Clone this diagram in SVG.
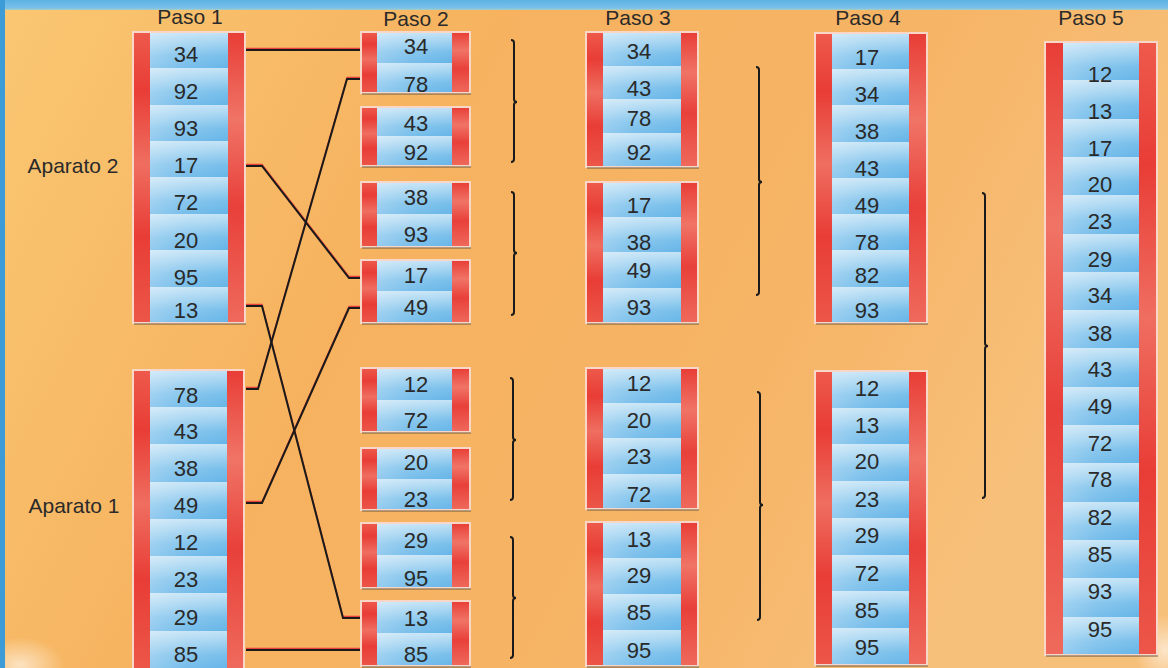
<svg xmlns="http://www.w3.org/2000/svg" width="1168" height="668" viewBox="0 0 1168 668">
<defs>
<linearGradient id="bg" x1="0" y1="0" x2="1" y2="0.3">
<stop offset="0" stop-color="#fac772"/>
<stop offset="0.4" stop-color="#f6b25f"/>
<stop offset="0.75" stop-color="#f6b466"/>
<stop offset="1" stop-color="#f7c07a"/>
</linearGradient>
<radialGradient id="haze" cx="0.5" cy="0.5" r="0.5">
<stop offset="0" stop-color="#ffffff" stop-opacity="0.6"/>
<stop offset="1" stop-color="#ffffff" stop-opacity="0"/>
</radialGradient>
<linearGradient id="topband" x1="0" y1="0" x2="0" y2="1">
<stop offset="0" stop-color="#5eb2e4"/>
<stop offset="0.8" stop-color="#79c0ea"/>
<stop offset="1" stop-color="#a9cfc0"/>
</linearGradient>
<linearGradient id="b2" x1="0" y1="0" x2="0" y2="0.5" spreadMethod="repeat">
<stop offset="0" stop-color="#c4e3f6"/>
<stop offset="0.3" stop-color="#a2d3f1"/>
<stop offset="0.65" stop-color="#78bfeb"/>
<stop offset="1" stop-color="#66b5e8"/>
</linearGradient>
<linearGradient id="b4" href="#b2" x1="0" y1="0" x2="0" y2="0.25" spreadMethod="repeat"/>
<linearGradient id="b8" href="#b2" x1="0" y1="0" x2="0" y2="0.125" spreadMethod="repeat"/>
<linearGradient id="b16" href="#b2" x1="0" y1="0" x2="0" y2="0.0625" spreadMethod="repeat"/>
<linearGradient id="hi" x1="0" y1="0" x2="1" y2="0">
<stop offset="0" stop-color="#ffffff" stop-opacity="0.3"/>
<stop offset="0.45" stop-color="#ffffff" stop-opacity="0.12"/>
<stop offset="1" stop-color="#ffffff" stop-opacity="0"/>
</linearGradient>
<linearGradient id="red" x1="0" y1="0" x2="0" y2="1">
<stop offset="0" stop-color="#ee5a4c"/>
<stop offset="0.2" stop-color="#e83d36"/>
<stop offset="0.45" stop-color="#ef6e60"/>
<stop offset="0.7" stop-color="#e83d36"/>
<stop offset="1" stop-color="#ec5648"/>
</linearGradient>
<linearGradient id="red2" x1="0" y1="0" x2="0" y2="1">
<stop offset="0" stop-color="#e83d36"/>
<stop offset="0.3" stop-color="#f07466"/>
<stop offset="0.6" stop-color="#e8403a"/>
<stop offset="1" stop-color="#ef6a5c"/>
</linearGradient>
</defs>
<style>
.num{font-family:"Liberation Sans",Arial,sans-serif;font-size:22px;fill:#2a2a2a;text-anchor:middle}
.lbl{font-family:"Liberation Sans",Arial,sans-serif;font-size:21px;fill:#2a2a2a;text-anchor:middle}
.frame{fill:none;stroke:#f8d6c8;stroke-width:2}
.rl{fill:url(#red)}
.rr{fill:url(#red2)}
.hi{fill:url(#hi)}
.shadow{fill:#6e5a3c;opacity:0.5}
.wire{fill:none;stroke:#1a1a1a;stroke-width:2}
.wirer{fill:none;stroke:#e8403a;stroke-width:1.2}
.brace{fill:none;stroke:#1a1a1a;stroke-width:2}
</style>

<rect width="1168" height="668" fill="url(#bg)"/>
<ellipse cx="20" cy="665" rx="45" ry="28" fill="url(#haze)"/>
<ellipse cx="1165" cy="650" rx="30" ry="35" fill="url(#haze)"/>
<rect x="0" y="0" width="1168" height="10" fill="url(#topband)"/>
<rect x="0" y="0" width="5" height="668" fill="#3d9bd8"/>

<g id="labels">
<text class="lbl" x="190" y="24">Paso 1</text>
<text class="lbl" x="416" y="26">Paso 2</text>
<text class="lbl" x="638" y="25">Paso 3</text>
<text class="lbl" x="868" y="25">Paso 4</text>
<text class="lbl" x="1091" y="25">Paso 5</text>
<text class="lbl" x="73" y="173">Aparato 2</text>
<text class="lbl" x="74" y="513">Aparato 1</text>
</g>

<g id="connectors">
<g transform="translate(0,-1.6)">
<polyline class="wirer" points="246,50 361,50"/>
<polyline class="wirer" points="246,166 262,166 349,278 361,278"/>
<polyline class="wirer" points="246,306 262,306 343,618 361,618"/>
<polyline class="wirer" points="246,389 258,389 347,79 361,79"/>
<polyline class="wirer" points="246,503 262,503 349,308 361,308"/>
<polyline class="wirer" points="246,650 361,650"/>
</g>
<polyline class="wire" points="246,50 361,50"/>
<polyline class="wire" points="246,166 262,166 349,278 361,278"/>
<polyline class="wire" points="246,306 262,306 343,618 361,618"/>
<polyline class="wire" points="246,389 258,389 347,79 361,79"/>
<polyline class="wire" points="246,503 262,503 349,308 361,308"/>
<polyline class="wire" points="246,650 361,650"/>
</g>

<g id="braces">
<path class="brace" d="M511,40 Q514,40 514,43 V99 Q514,102 517,102 Q514,102 514,105 V159 Q514,162 511,162"/>
<path class="brace" d="M511,192 Q514,192 514,195 V250 Q514,253 517,253 Q514,253 514,256 V312 Q514,315 511,315"/>
<path class="brace" d="M510,378 Q513,378 513,381 V437 Q513,440 516,440 Q513,440 513,443 V497 Q513,500 510,500"/>
<path class="brace" d="M510,537 Q513,537 513,540 V595 Q513,598 516,598 Q513,598 513,601 V655 Q513,658 510,658"/>
<path class="brace" d="M756,67 Q759,67 759,70 V179 Q759,182 762,182 Q759,182 759,185 V292 Q759,295 756,295"/>
<path class="brace" d="M757,392 Q760,392 760,395 V502 Q760,505 763,505 Q760,505 760,508 V617 Q760,620 757,620"/>
<path class="brace" d="M982,193 Q985,193 985,196 V343 Q985,346 988,346 Q985,346 985,349 V495 Q985,498 982,498"/>
</g>

<g id="paso1-aparato2">
<rect x="150" y="32" width="78" height="291" fill="url(#b8)"/>
<rect class="hi" x="150" y="32" width="78" height="291"/>
<rect class="rl" x="133" y="32" width="17" height="291"/>
<rect class="rr" x="228" y="32" width="17" height="291"/>
<rect class="frame" x="133" y="32" width="112" height="291"/>
<rect class="shadow" x="134" y="323" width="112" height="2"/>
<text class="num" x="186" y="62">34</text>
<text class="num" x="186" y="99">92</text>
<text class="num" x="186" y="136">93</text>
<text class="num" x="186" y="173">17</text>
<text class="num" x="186" y="210">72</text>
<text class="num" x="186" y="248">20</text>
<text class="num" x="186" y="285">95</text>
<text class="num" x="186" y="318">13</text>
</g>

<g id="paso1-aparato1">
<rect x="150" y="370" width="77" height="298" fill="url(#b8)"/>
<rect class="hi" x="150" y="370" width="77" height="298"/>
<rect class="rl" x="133" y="370" width="17" height="298"/>
<rect class="rr" x="227" y="370" width="17" height="298"/>
<rect class="frame" x="133" y="370" width="111" height="300"/>
<text class="num" x="186" y="403">78</text>
<text class="num" x="186" y="439">43</text>
<text class="num" x="186" y="476">38</text>
<text class="num" x="186" y="513">49</text>
<text class="num" x="186" y="550">12</text>
<text class="num" x="186" y="587">23</text>
<text class="num" x="186" y="625">29</text>
<text class="num" x="186" y="662">85</text>
</g>

<g id="paso2-a">
<rect x="377" y="32" width="75" height="61" fill="url(#b2)"/>
<rect class="hi" x="377" y="32" width="75" height="61"/>
<rect class="rl" x="361" y="32" width="16" height="61"/>
<rect class="rr" x="452" y="32" width="18" height="61"/>
<rect class="frame" x="361" y="32" width="109" height="61"/>
<rect class="shadow" x="362" y="93" width="109" height="2"/>
<text class="num" x="416" y="54">34</text>
<text class="num" x="416" y="92">78</text>
</g>
<g id="paso2-b">
<rect x="377" y="107" width="75" height="59" fill="url(#b2)"/>
<rect class="hi" x="377" y="107" width="75" height="59"/>
<rect class="rl" x="361" y="107" width="16" height="59"/>
<rect class="rr" x="452" y="107" width="18" height="59"/>
<rect class="frame" x="361" y="107" width="109" height="59"/>
<rect class="shadow" x="362" y="166" width="109" height="2"/>
<text class="num" x="416" y="131">43</text>
<text class="num" x="416" y="160">92</text>
</g>
<g id="paso2-c">
<rect x="377" y="182" width="75" height="65" fill="url(#b2)"/>
<rect class="hi" x="377" y="182" width="75" height="65"/>
<rect class="rl" x="361" y="182" width="16" height="65"/>
<rect class="rr" x="452" y="182" width="18" height="65"/>
<rect class="frame" x="361" y="182" width="109" height="65"/>
<rect class="shadow" x="362" y="247" width="109" height="2"/>
<text class="num" x="416" y="205">38</text>
<text class="num" x="416" y="242">93</text>
</g>
<g id="paso2-d">
<rect x="377" y="260" width="75" height="63" fill="url(#b2)"/>
<rect class="hi" x="377" y="260" width="75" height="63"/>
<rect class="rl" x="361" y="260" width="16" height="63"/>
<rect class="rr" x="452" y="260" width="18" height="63"/>
<rect class="frame" x="361" y="260" width="109" height="63"/>
<rect class="shadow" x="362" y="323" width="109" height="2"/>
<text class="num" x="416" y="283">17</text>
<text class="num" x="416" y="315">49</text>
</g>
<g id="paso2-e">
<rect x="377" y="368" width="75" height="64" fill="url(#b2)"/>
<rect class="hi" x="377" y="368" width="75" height="64"/>
<rect class="rl" x="361" y="368" width="16" height="64"/>
<rect class="rr" x="452" y="368" width="18" height="64"/>
<rect class="frame" x="361" y="368" width="109" height="64"/>
<rect class="shadow" x="362" y="432" width="109" height="2"/>
<text class="num" x="416" y="392">12</text>
<text class="num" x="416" y="428">72</text>
</g>
<g id="paso2-f">
<rect x="377" y="448" width="75" height="62" fill="url(#b2)"/>
<rect class="hi" x="377" y="448" width="75" height="62"/>
<rect class="rl" x="361" y="448" width="16" height="62"/>
<rect class="rr" x="452" y="448" width="18" height="62"/>
<rect class="frame" x="361" y="448" width="109" height="62"/>
<rect class="shadow" x="362" y="510" width="109" height="2"/>
<text class="num" x="416" y="470">20</text>
<text class="num" x="416" y="507">23</text>
</g>
<g id="paso2-g">
<rect x="377" y="523" width="75" height="65" fill="url(#b2)"/>
<rect class="hi" x="377" y="523" width="75" height="65"/>
<rect class="rl" x="361" y="523" width="16" height="65"/>
<rect class="rr" x="452" y="523" width="18" height="65"/>
<rect class="frame" x="361" y="523" width="109" height="65"/>
<rect class="shadow" x="362" y="588" width="109" height="2"/>
<text class="num" x="416" y="548">29</text>
<text class="num" x="416" y="586">95</text>
</g>
<g id="paso2-h">
<rect x="377" y="601" width="75" height="65" fill="url(#b2)"/>
<rect class="hi" x="377" y="601" width="75" height="65"/>
<rect class="rl" x="361" y="601" width="16" height="65"/>
<rect class="rr" x="452" y="601" width="18" height="65"/>
<rect class="frame" x="361" y="601" width="109" height="65"/>
<rect class="shadow" x="362" y="666" width="109" height="2"/>
<text class="num" x="416" y="626">13</text>
<text class="num" x="416" y="662">85</text>
</g>

<g id="paso3-a">
<rect x="603" y="32" width="78" height="135" fill="url(#b4)"/>
<rect class="hi" x="603" y="32" width="78" height="135"/>
<rect class="rl" x="586" y="32" width="17" height="135"/>
<rect class="rr" x="681" y="32" width="17" height="135"/>
<rect class="frame" x="586" y="32" width="112" height="135"/>
<rect class="shadow" x="587" y="167" width="112" height="2"/>
<text class="num" x="639" y="59">34</text>
<text class="num" x="639" y="96">43</text>
<text class="num" x="639" y="126">78</text>
<text class="num" x="639" y="160">92</text>
</g>
<g id="paso3-b">
<rect x="603" y="182" width="78" height="141" fill="url(#b4)"/>
<rect class="hi" x="603" y="182" width="78" height="141"/>
<rect class="rl" x="586" y="182" width="17" height="141"/>
<rect class="rr" x="681" y="182" width="17" height="141"/>
<rect class="frame" x="586" y="182" width="112" height="141"/>
<rect class="shadow" x="587" y="323" width="112" height="2"/>
<text class="num" x="639" y="213">17</text>
<text class="num" x="639" y="250">38</text>
<text class="num" x="639" y="278">49</text>
<text class="num" x="639" y="315">93</text>
</g>
<g id="paso3-c">
<rect x="603" y="368" width="78" height="141" fill="url(#b4)"/>
<rect class="hi" x="603" y="368" width="78" height="141"/>
<rect class="rl" x="586" y="368" width="17" height="141"/>
<rect class="rr" x="681" y="368" width="17" height="141"/>
<rect class="frame" x="586" y="368" width="112" height="141"/>
<rect class="shadow" x="587" y="509" width="112" height="2"/>
<text class="num" x="639" y="391">12</text>
<text class="num" x="639" y="428">20</text>
<text class="num" x="639" y="464">23</text>
<text class="num" x="639" y="502">72</text>
</g>
<g id="paso3-d">
<rect x="603" y="522" width="78" height="144" fill="url(#b4)"/>
<rect class="hi" x="603" y="522" width="78" height="144"/>
<rect class="rl" x="586" y="522" width="17" height="144"/>
<rect class="rr" x="681" y="522" width="17" height="144"/>
<rect class="frame" x="586" y="522" width="112" height="144"/>
<rect class="shadow" x="587" y="666" width="112" height="2"/>
<text class="num" x="639" y="547">13</text>
<text class="num" x="639" y="583">29</text>
<text class="num" x="639" y="620">85</text>
<text class="num" x="639" y="658">95</text>
</g>

<g id="paso4-a">
<rect x="832" y="33" width="77" height="290" fill="url(#b8)"/>
<rect class="hi" x="832" y="33" width="77" height="290"/>
<rect class="rl" x="815" y="33" width="17" height="290"/>
<rect class="rr" x="909" y="33" width="18" height="290"/>
<rect class="frame" x="815" y="33" width="112" height="290"/>
<rect class="shadow" x="816" y="323" width="112" height="2"/>
<text class="num" x="867" y="65">17</text>
<text class="num" x="867" y="102">34</text>
<text class="num" x="867" y="139">38</text>
<text class="num" x="867" y="176">43</text>
<text class="num" x="867" y="213">49</text>
<text class="num" x="867" y="250">78</text>
<text class="num" x="867" y="283">82</text>
<text class="num" x="867" y="318">93</text>
</g>
<g id="paso4-b">
<rect x="832" y="371" width="77" height="294" fill="url(#b8)"/>
<rect class="hi" x="832" y="371" width="77" height="294"/>
<rect class="rl" x="815" y="371" width="17" height="294"/>
<rect class="rr" x="909" y="371" width="18" height="294"/>
<rect class="frame" x="815" y="371" width="112" height="294"/>
<rect class="shadow" x="816" y="665" width="112" height="2"/>
<text class="num" x="867" y="396">12</text>
<text class="num" x="867" y="433">13</text>
<text class="num" x="867" y="469">20</text>
<text class="num" x="867" y="507">23</text>
<text class="num" x="867" y="543">29</text>
<text class="num" x="867" y="581">72</text>
<text class="num" x="867" y="618">85</text>
<text class="num" x="867" y="655">95</text>
</g>

<g id="paso5">
<rect x="1063" y="42" width="76" height="613" fill="url(#b16)"/>
<rect class="hi" x="1063" y="42" width="76" height="613"/>
<rect class="rr" x="1045" y="42" width="18" height="613"/>
<rect class="rl" x="1139" y="42" width="18" height="613"/>
<rect class="frame" x="1045" y="42" width="112" height="613"/>
<rect class="shadow" x="1046" y="655" width="112" height="2"/>
<text class="num" x="1100" y="82">12</text>
<text class="num" x="1100" y="119">13</text>
<text class="num" x="1100" y="156">17</text>
<text class="num" x="1100" y="192">20</text>
<text class="num" x="1100" y="229">23</text>
<text class="num" x="1100" y="267">29</text>
<text class="num" x="1100" y="303">34</text>
<text class="num" x="1100" y="341">38</text>
<text class="num" x="1100" y="377">43</text>
<text class="num" x="1100" y="414">49</text>
<text class="num" x="1100" y="451">72</text>
<text class="num" x="1100" y="487">78</text>
<text class="num" x="1100" y="525">82</text>
<text class="num" x="1100" y="562">85</text>
<text class="num" x="1100" y="599">93</text>
<text class="num" x="1100" y="637">95</text>
</g>
</svg>
